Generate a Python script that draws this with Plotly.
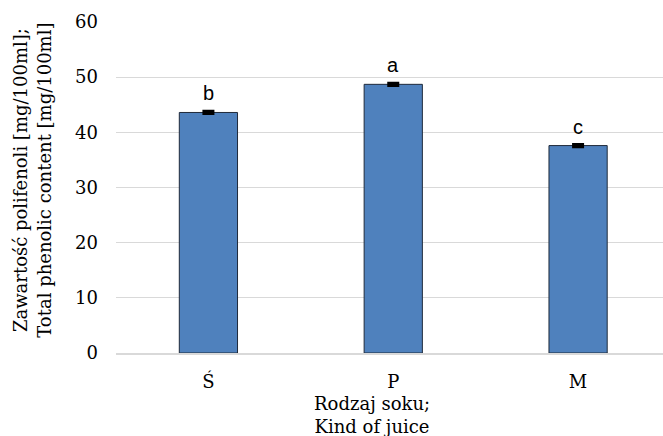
import plotly.graph_objects as go

# Juice types and their total phenolic content (mg/100 ml)
juices = ["Ś", "P", "M"]
phenolics = [43.6, 48.7, 37.6]
phenolics_err = [0.2, 0.2, 0.2]
group_letters = ["b", "a", "c"]

y_ticks = [0, 10, 20, 30, 40, 50, 60]

SERIF = "DejaVu Serif"
SANS = "Liberation Sans"

fig = go.Figure()
fig.add_trace(go.Bar(
    x=juices,
    y=phenolics,
    width=0.315,
    marker=dict(color="#4F81BD", line=dict(color="#1F2A3A", width=1)),
    error_y=dict(type="data", array=phenolics_err, color="black",
                 thickness=3, width=6),
    hoverinfo="skip",
))

# Homogeneous-group letters above each bar
for j, v, lab in zip(juices, phenolics, group_letters):
    fig.add_annotation(x=j, y=v, text=lab, showarrow=False,
                       yanchor="bottom", yshift=6,
                       font=dict(family=SANS, size=20, color="black"))

# Axis titles
fig.add_annotation(xref="paper", yref="paper", x=(372 - 116) / (663 - 116),
                   y=(353.5 - 416) / (353.5 - 22), text="Rodzaj soku;<br>Kind of juice",
                   showarrow=False, xanchor="center", yanchor="middle",
                   font=dict(family=SERIF, size=18, color="black"))
fig.add_annotation(xref="paper", yref="paper", x=(32 - 116) / (663 - 116),
                   y=(353.5 - 181) / (353.5 - 22),
                   text="Zawartość polifenoli [mg/100ml];<br>Total phenolic content [mg/100ml]",
                   textangle=-90, showarrow=False, xanchor="center", yanchor="middle",
                   font=dict(family=SERIF, size=18, color="black"))

fig.update_layout(
    width=663, height=436,
    margin=dict(l=116, r=0, t=22, b=82.5),
    paper_bgcolor="white", plot_bgcolor="white",
    showlegend=False,
    font=dict(family=SERIF, size=18, color="black"),
    xaxis=dict(range=[-0.5, (663 - 115.5) / 185 - 0.5], showgrid=False,
               showline=True, linecolor="#D9D9D9", linewidth=1.5,
               ticks="", ticklabelstandoff=12, fixedrange=True),
    yaxis=dict(range=[0, 60], tickvals=y_ticks, showgrid=True,
               gridcolor="#D9D9D9", gridwidth=1.3, zeroline=False,
               showline=False, ticks="", ticklabelstandoff=17, fixedrange=True),
)

fig.write_html("out.html")
